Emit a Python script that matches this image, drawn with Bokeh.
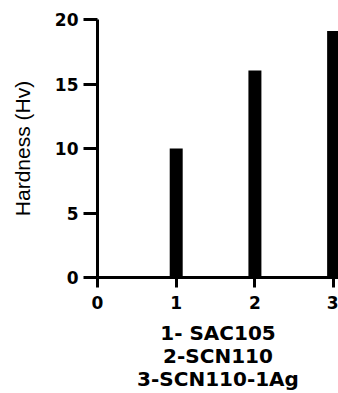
from bokeh.plotting import figure
from bokeh.models import Range1d, FixedTicker
from bokeh.embed import file_html
from bokeh.resources import INLINE

# Data
samples = [1, 2, 3]
hardness = [10.0, 16.05, 19.1]
x_ticks = [0, 1, 2, 3]
y_ticks = [0, 5, 10, 15, 20]
legend_lines = ["1- SAC105", "2-SCN110", "3-SCN110-1Ag"]
y_title = "Hardness (Hv)"

p = figure(width=338, height=393, output_backend="svg", toolbar_location=None,
           x_range=Range1d(0, 3.062), y_range=Range1d(0, 20),
           min_border_left=97, min_border_right=0, min_border_top=19,
           min_border_bottom=114)
p.outline_line_color = None
p.xgrid.grid_line_color = None
p.ygrid.grid_line_color = None
p.background_fill_color = "white"
p.border_fill_color = "white"

p.vbar(x=samples, top=hardness, width=0.165, bottom=0,
       fill_color="black", line_color=None)

tick_font = "DejaVu Sans"
for ax in (p.xaxis[0], p.yaxis[0]):
    ax.axis_line_width = 3
    ax.axis_line_color = "black"
    ax.major_tick_line_width = 3
    ax.major_tick_line_color = "black"
    ax.major_tick_in = 0
    ax.minor_tick_line_color = None
    ax.major_label_text_font = tick_font
    ax.major_label_text_font_style = "bold"
    ax.major_label_text_font_size = "17px"
    ax.major_label_text_color = "black"

p.xaxis[0].ticker = FixedTicker(ticks=x_ticks)
p.yaxis[0].ticker = FixedTicker(ticks=y_ticks)
p.xaxis[0].major_tick_out = 10
p.xaxis[0].major_label_standoff = 8
p.yaxis[0].major_tick_out = 14
p.yaxis[0].major_label_standoff = 5

p.yaxis[0].axis_label = y_title
p.yaxis[0].axis_label_text_font = "Liberation Sans"
p.yaxis[0].axis_label_text_font_style = "normal"
p.yaxis[0].axis_label_text_font_size = "21px"
p.yaxis[0].axis_label_text_color = "black"
p.yaxis[0].axis_label_standoff = 18

# x-axis caption: three centred bold lines
p.xaxis[0].axis_label = "\n".join(legend_lines)
p.xaxis[0].axis_label_text_font = tick_font
p.xaxis[0].axis_label_text_font_style = "bold"
p.xaxis[0].axis_label_text_font_size = "20px"
p.xaxis[0].axis_label_text_color = "black"
p.xaxis[0].axis_label_text_line_height = 0.96
p.xaxis[0].axis_label_standoff = 9

open("out.html", "w").write(file_html(p, INLINE))
